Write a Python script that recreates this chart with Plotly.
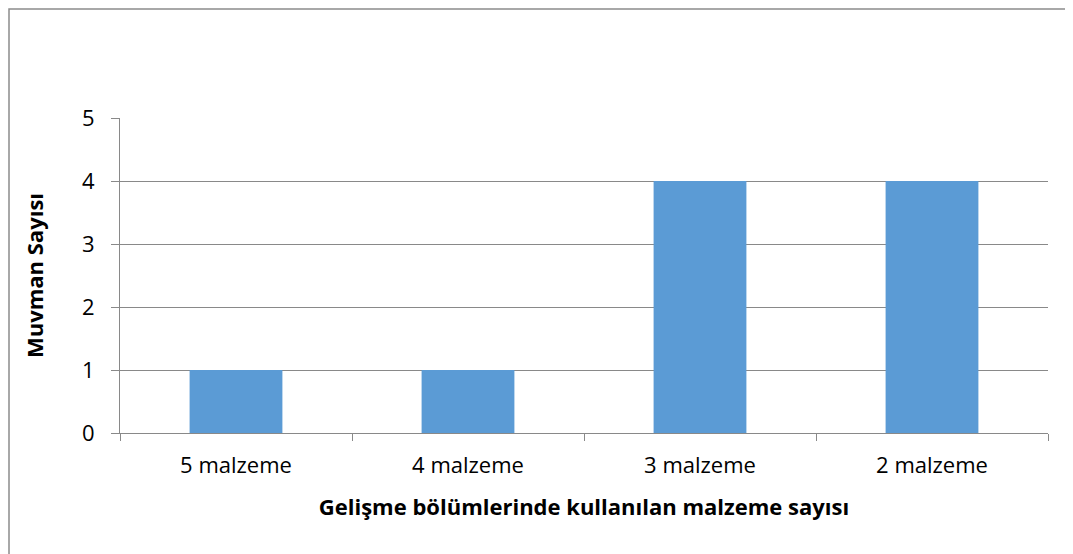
import plotly.graph_objects as go

categories = ["5 malzeme", "4 malzeme", "3 malzeme", "2 malzeme"]
values = [1, 1, 4, 4]
y_ticks = [0, 1, 2, 3, 4, 5]

# page has an 8px body margin; figure is sized so the plot lands where the reference has it
OFF = 8
W, H = 1073 - OFF, 554 - OFF
L, R, T, B = 120 - OFF, 25, 118 - OFF, 121
pw = W - L - R
ph = H - T - B

fig = go.Figure(go.Bar(x=categories, y=values, marker=dict(color="#5B9BD5", line=dict(width=0))))

font = "'Open Sans', sans-serif"
fig.update_layout(
    width=W, height=H,
    margin=dict(l=L, r=R, t=T, b=B),
    paper_bgcolor="white", plot_bgcolor="white",
    bargap=0.6,
    showlegend=False,
    font=dict(family=font, color="black"),
    xaxis=dict(
        tickson="boundaries", ticks="outside", ticklen=7, tickcolor="#898989",
        showline=True, linecolor="#898989", linewidth=1,
        tickfont=dict(size=22), showgrid=False, ticklabelstandoff=13,
        title=dict(text="<b>Gelişme bölümlerinde kullanılan malzeme sayısı</b>", font=dict(size=22), standoff=21),
    ),
    yaxis=dict(
        range=[0, 5], tickvals=y_ticks, ticks="outside", ticklen=8, tickcolor="#898989",
        showline=True, linecolor="#898989", linewidth=1,
        showgrid=True, gridcolor="#898989", gridwidth=1,
        tickfont=dict(size=22), zeroline=False, ticklabelstandoff=12,
        title=dict(text="<b>Muvman Sayısı</b>", font=dict(size=22), standoff=32),
    ),
    shapes=[dict(
        type="rect", xref="paper", yref="paper",
        x0=(1 - L) / pw, x1=(1080 - L) / pw,
        y0=(H - B - 560) / ph, y1=(H - B - 1) / ph,
        line=dict(color="#8c8c8c", width=1.5), fillcolor="rgba(0,0,0,0)", layer="below",
    )],
)

fig.write_html("out.html")
